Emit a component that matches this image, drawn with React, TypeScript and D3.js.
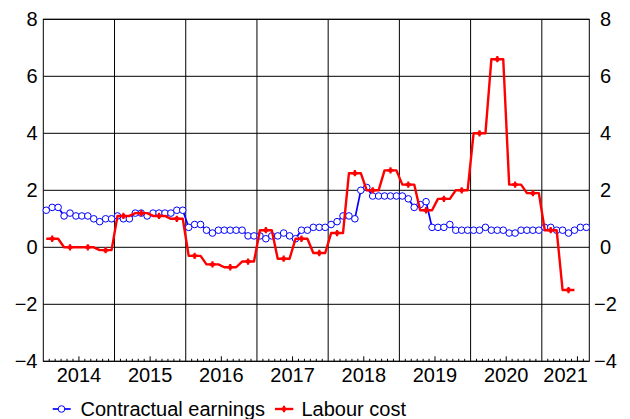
import React from "react";
import * as d3 from "d3";

const years = [2014, 2015, 2016, 2017, 2018, 2019, 2020, 2021];
const yTicks = [-4, -2, 0, 2, 4, 6, 8];

// Monthly, Jan 2014 .. Aug 2021
const contractual = [
  1.3, 1.4, 1.4, 1.1, 1.2, 1.1, 1.1, 1.1, 1.0, 0.9, 1.0, 1.0,
  1.1, 1.0, 1.0, 1.2, 1.2, 1.1, 1.2, 1.2, 1.2, 1.2, 1.3, 1.3,
  0.7, 0.8, 0.8, 0.6, 0.5, 0.6, 0.6, 0.6, 0.6, 0.6, 0.4, 0.4,
  0.4, 0.3, 0.4, 0.4, 0.5, 0.4, 0.3, 0.6, 0.6, 0.7, 0.7, 0.7,
  0.8, 0.9, 1.1, 1.1, 1.0, 2.0, 2.1, 1.8, 1.8, 1.8, 1.8, 1.8,
  1.8, 1.7, 1.4, 1.5, 1.6, 0.7, 0.7, 0.7, 0.8, 0.6, 0.6, 0.6,
  0.6, 0.6, 0.7, 0.6, 0.6, 0.6, 0.5, 0.5, 0.6, 0.6, 0.6, 0.6,
  0.7, 0.7, 0.6, 0.6, 0.5, 0.6, 0.7, 0.7,
];

// Quarterly, Q1 2014 .. Q2 2021
const labourCost = [
  0.3, 0.0, 0.0, -0.1,
  1.1, 1.2, 1.1, 1.0,
  -0.3, -0.6, -0.7, -0.5,
  0.6, -0.4, 0.3, -0.2,
  0.5, 2.6, 2.0, 2.7,
  2.2, 1.3, 1.7, 2.0,
  4.0, 6.6, 2.2, 1.9,
  0.6, -1.5,
];

const seriesNames = ["Contractual earnings", "Labour cost"];

const W = 630;
const H = 419;
const L = 43.3;
const R = 589.3;
const T = 19.3;
const B = 361.3;
const nMonths = 92;
const FONT = "'Liberation Sans', Arial, Helvetica, sans-serif";
const FS = 20;

export default function App() {
  const x = d3.scaleLinear().domain([0, nMonths]).range([L, R]);
  const y = d3.scaleLinear().domain([-4, 8]).range([B, T]);

  const blue = contractual.map((v, i) => ({ i: i + 0.5, v }));
  const red: { i: number; v: number; mark: boolean }[] = [];
  labourCost.forEach((v, q) => {
    for (let k = 0; k < 3; k++) red.push({ i: q * 3 + k + 0.5, v, mark: k === 1 });
  });

  const line = d3
    .line<{ i: number; v: number }>()
    .x((d) => x(d.i))
    .y((d) => y(d.v));

  const cross = d3.symbol().type(d3.symbolCross).size(22)() as string;

  const monthTicks: { m: number; tall: boolean }[] = [];
  for (let m = 1; m < nMonths; m++) {
    if (m % 12 === 0) continue;
    monthTicks.push({ m, tall: m % 12 === 6 });
  }

  const Marker = ({ cx, cy }: { cx: number; cy: number }) => (
    <g transform={`translate(${cx},${cy})`}>
      <path d={cross} fill="#ff0000" />
      <circle r={2.2} fill="#ff0000" />
    </g>
  );

  return (
    <svg
      width={W}
      height={H}
      style={{ position: "absolute", left: 0, top: 0, background: "#fff" }}
      fontFamily={FONT}
    >
      <rect x={0} y={0} width={W} height={H} fill="#fff" />
      {yTicks.map((t) => (
        <line key={"h" + t} x1={L} x2={R} y1={y(t)} y2={y(t)} stroke="#000" strokeWidth={1} />
      ))}
      {years.slice(1).map((yr, k) => (
        <line
          key={"v" + yr}
          x1={x((k + 1) * 12)}
          x2={x((k + 1) * 12)}
          y1={T}
          y2={B}
          stroke="#000"
          strokeWidth={1}
        />
      ))}
      <rect x={L} y={T} width={R - L} height={B - T} fill="none" stroke="#000" strokeWidth={1} />
      {monthTicks.map((t) => (
        <line
          key={"mt" + t.m}
          x1={x(t.m)}
          x2={x(t.m)}
          y1={B}
          y2={B - (t.tall ? 5 : 2.5)}
          stroke="#000"
          strokeWidth={1}
        />
      ))}
      {yTicks.map((t) => (
        <g key={"yl" + t} fontSize={FS} fill="#000">
          <text x={37.5} y={y(t) + 7} textAnchor="end">
            {t < 0 ? "\u2212" + Math.abs(t) : String(t)}
          </text>
          <text x={605.5} y={y(t) + 7} textAnchor="middle">
            {t < 0 ? "\u2212" + Math.abs(t) : String(t)}
          </text>
        </g>
      ))}
      {years.map((yr, k) => {
        const a = x(k * 12);
        const b = Math.min(x((k + 1) * 12), R);
        return (
          <text key={"xl" + yr} x={(a + b) / 2} y={381.7} textAnchor="middle" fontSize={FS} fill="#000">
            {yr}
          </text>
        );
      })}
      <path d={line(blue) as string} fill="none" stroke="#0000ff" strokeWidth={1.7} />
      {blue.map((d, k) => (
        <circle key={"b" + k} cx={x(d.i)} cy={y(d.v)} r={3.3} fill="#fff" stroke="#0000ff" strokeWidth={1} />
      ))}
      <path d={line(red) as string} fill="none" stroke="#ff0000" strokeWidth={2.4} strokeLinejoin="round" />
      {red
        .filter((d) => d.mark)
        .map((d, k) => (
          <Marker key={"r" + k} cx={x(d.i)} cy={y(d.v)} />
        ))}
      <g>
        <line x1={52.7} x2={70.7} y1={409} y2={409} stroke="#0000ff" strokeWidth={1.7} />
        <circle cx={61.5} cy={409} r={3.3} fill="#fff" stroke="#0000ff" strokeWidth={1} />
        <text x={80.5} y={416} fontSize={FS} fill="#000">
          {seriesNames[0]}
        </text>
        <line x1={275} x2={293.3} y1={409} y2={409} stroke="#ff0000" strokeWidth={2.4} />
        <Marker cx={284} cy={409} />
        <text x={301.5} y={416} fontSize={FS} fill="#000">
          {seriesNames[1]}
        </text>
      </g>
    </svg>
  );
}
